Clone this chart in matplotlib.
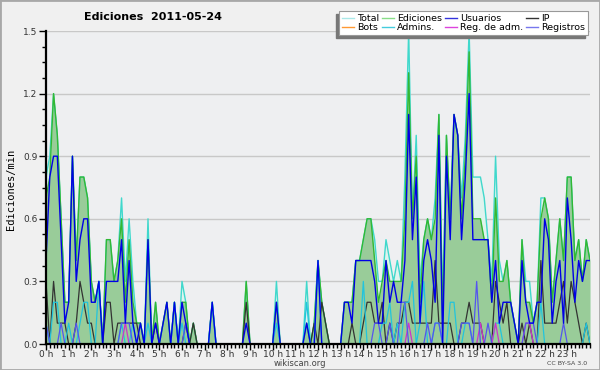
import numpy as np
import matplotlib
matplotlib.use('Agg')
import matplotlib.pyplot as plt
from matplotlib.lines import Line2D
from matplotlib.patches import Rectangle
from matplotlib.ticker import MultipleLocator, FormatStrFormatter

# edits per minute, one value per 10 minutes (12 per line = 2 hours)
total = [
    0.8, 0.9, 1.2, 1.0, 0.6, 0.2,  0.2, 0.9, 0.4, 0.8, 0.8, 0.7,
    0.3, 0.2, 0.3, 0.0, 0.5, 0.5,  0.3, 0.4, 0.7, 0.3, 0.6, 0.3,
    0.1, 0.1, 0.0, 0.6, 0.0, 0.2,  0.0, 0.1, 0.2, 0.0, 0.2, 0.0,
    0.3, 0.2, 0.0, 0.1, 0.0, 0.0,  0.0, 0.0, 0.2, 0.0, 0.0, 0.0,
    0.0, 0.0, 0.0, 0.0, 0.0, 0.3,  0.0, 0.0, 0.0, 0.0, 0.0, 0.0,
    0.0, 0.3, 0.0, 0.0, 0.0, 0.0,  0.0, 0.0, 0.0, 0.3, 0.0, 0.1,
    0.4, 0.2, 0.1, 0.0, 0.0, 0.0,  0.0, 0.2, 0.2, 0.2, 0.4, 0.4,
    0.5, 0.6, 0.6, 0.5, 0.3, 0.3,  0.5, 0.4, 0.3, 0.4, 0.3, 0.8,
    1.5, 0.6, 1.0, 0.3, 0.5, 0.6,  0.5, 0.7, 1.1, 0.2, 1.0, 0.6,
    1.1, 1.0, 0.7, 1.0, 1.5, 0.8,  0.8, 0.8, 0.7, 0.5, 0.3, 0.9,
    0.4, 0.3, 0.4, 0.2, 0.1, 0.0,  0.5, 0.3, 0.3, 0.1, 0.2, 0.7,
    0.7, 0.6, 0.2, 0.4, 0.6, 0.4,  0.8, 0.8, 0.4, 0.5, 0.3, 0.5,
    0.4]
ediciones = [
    0.7, 0.8, 1.2, 1.0, 0.6, 0.2,  0.2, 0.9, 0.4, 0.8, 0.8, 0.7,
    0.3, 0.2, 0.3, 0.0, 0.5, 0.5,  0.3, 0.4, 0.6, 0.2, 0.5, 0.2,
    0.1, 0.1, 0.0, 0.5, 0.0, 0.2,  0.0, 0.1, 0.2, 0.0, 0.2, 0.0,
    0.2, 0.2, 0.0, 0.1, 0.0, 0.0,  0.0, 0.0, 0.2, 0.0, 0.0, 0.0,
    0.0, 0.0, 0.0, 0.0, 0.0, 0.3,  0.0, 0.0, 0.0, 0.0, 0.0, 0.0,
    0.0, 0.2, 0.0, 0.0, 0.0, 0.0,  0.0, 0.0, 0.0, 0.1, 0.0, 0.1,
    0.4, 0.2, 0.1, 0.0, 0.0, 0.0,  0.0, 0.2, 0.2, 0.2, 0.4, 0.4,
    0.5, 0.6, 0.6, 0.4, 0.2, 0.3,  0.4, 0.3, 0.3, 0.3, 0.3, 0.6,
    1.3, 0.6, 0.9, 0.2, 0.5, 0.6,  0.5, 0.6, 1.1, 0.1, 1.0, 0.6,
    1.1, 1.0, 0.6, 0.9, 1.4, 0.6,  0.6, 0.6, 0.5, 0.5, 0.2, 0.7,
    0.3, 0.3, 0.4, 0.2, 0.1, 0.0,  0.5, 0.2, 0.2, 0.1, 0.2, 0.6,
    0.7, 0.6, 0.2, 0.4, 0.6, 0.4,  0.8, 0.8, 0.4, 0.5, 0.3, 0.5,
    0.4]
usuarios = [
    0.4, 0.8, 0.9, 0.9, 0.5, 0.1,  0.2, 0.9, 0.3, 0.5, 0.6, 0.6,
    0.2, 0.2, 0.3, 0.0, 0.3, 0.3,  0.3, 0.3, 0.5, 0.1, 0.4, 0.1,
    0.0, 0.1, 0.0, 0.5, 0.0, 0.1,  0.0, 0.1, 0.2, 0.0, 0.2, 0.0,
    0.2, 0.1, 0.0, 0.0, 0.0, 0.0,  0.0, 0.0, 0.2, 0.0, 0.0, 0.0,
    0.0, 0.0, 0.0, 0.0, 0.0, 0.1,  0.0, 0.0, 0.0, 0.0, 0.0, 0.0,
    0.0, 0.2, 0.0, 0.0, 0.0, 0.0,  0.0, 0.0, 0.0, 0.1, 0.0, 0.0,
    0.4, 0.0, 0.0, 0.0, 0.0, 0.0,  0.0, 0.2, 0.2, 0.1, 0.4, 0.4,
    0.4, 0.4, 0.4, 0.3, 0.1, 0.1,  0.4, 0.2, 0.3, 0.2, 0.2, 0.4,
    1.1, 0.5, 0.8, 0.1, 0.4, 0.5,  0.4, 0.2, 1.0, 0.0, 0.9, 0.5,
    1.1, 1.0, 0.5, 0.8, 1.2, 0.5,  0.5, 0.5, 0.5, 0.5, 0.2, 0.4,
    0.1, 0.2, 0.2, 0.2, 0.1, 0.0,  0.4, 0.2, 0.1, 0.1, 0.2, 0.2,
    0.6, 0.5, 0.1, 0.3, 0.4, 0.1,  0.7, 0.5, 0.2, 0.4, 0.3, 0.4,
    0.4]
ip = [
    0.3, 0.0, 0.3, 0.1, 0.1, 0.1,  0.0, 0.0, 0.1, 0.3, 0.2, 0.1,
    0.1, 0.0, 0.0, 0.0, 0.2, 0.2,  0.0, 0.1, 0.1, 0.1, 0.1, 0.1,
    0.1, 0.0, 0.0, 0.0, 0.0, 0.1,  0.0, 0.0, 0.0, 0.0, 0.0, 0.0,
    0.0, 0.1, 0.0, 0.1, 0.0, 0.0,  0.0, 0.0, 0.0, 0.0, 0.0, 0.0,
    0.0, 0.0, 0.0, 0.0, 0.0, 0.2,  0.0, 0.0, 0.0, 0.0, 0.0, 0.0,
    0.0, 0.0, 0.0, 0.0, 0.0, 0.0,  0.0, 0.0, 0.0, 0.0, 0.0, 0.1,
    0.0, 0.2, 0.1, 0.0, 0.0, 0.0,  0.0, 0.0, 0.0, 0.1, 0.0, 0.0,
    0.1, 0.2, 0.2, 0.1, 0.1, 0.2,  0.0, 0.1, 0.0, 0.1, 0.1, 0.2,
    0.2, 0.1, 0.1, 0.1, 0.1, 0.1,  0.1, 0.4, 0.1, 0.1, 0.1, 0.1,
    0.0, 0.0, 0.1, 0.1, 0.2, 0.1,  0.1, 0.1, 0.0, 0.0, 0.0, 0.3,
    0.2, 0.1, 0.2, 0.0, 0.0, 0.0,  0.1, 0.0, 0.1, 0.0, 0.0, 0.4,
    0.1, 0.1, 0.1, 0.1, 0.2, 0.3,  0.1, 0.3, 0.2, 0.1, 0.0, 0.1,
    0.0]
bots = [0.0] * 145
admins = [
    0.1, 0.0, 0.2, 0.2, 0.0, 0.0,  0.1, 0.0, 0.0, 0.1, 0.2, 0.2,
    0.0, 0.0, 0.3, 0.0, 0.0, 0.0,  0.0, 0.0, 0.1, 0.0, 0.0, 0.1,
    0.0, 0.0, 0.0, 0.1, 0.0, 0.0,  0.0, 0.0, 0.0, 0.0, 0.2, 0.0,
    0.1, 0.0, 0.0, 0.0, 0.0, 0.0,  0.0, 0.0, 0.2, 0.0, 0.0, 0.0,
    0.0, 0.0, 0.0, 0.0, 0.0, 0.0,  0.0, 0.0, 0.0, 0.0, 0.0, 0.0,
    0.0, 0.1, 0.0, 0.0, 0.0, 0.0,  0.0, 0.0, 0.0, 0.2, 0.0, 0.0,
    0.4, 0.0, 0.0, 0.0, 0.0, 0.0,  0.0, 0.0, 0.0, 0.0, 0.0, 0.0,
    0.3, 0.0, 0.0, 0.0, 0.0, 0.1,  0.1, 0.2, 0.0, 0.1, 0.0, 0.2,
    0.2, 0.3, 0.0, 0.1, 0.3, 0.0,  0.0, 0.1, 0.1, 0.0, 0.0, 0.2,
    0.2, 0.0, 0.0, 0.1, 0.1, 0.0,  0.0, 0.0, 0.0, 0.0, 0.0, 0.1,
    0.1, 0.0, 0.0, 0.0, 0.0, 0.0,  0.0, 0.0, 0.0, 0.0, 0.0, 0.2,
    0.0, 0.0, 0.0, 0.0, 0.0, 0.0,  0.0, 0.0, 0.0, 0.0, 0.0, 0.1,
    0.0]
reg_adm = [0.0] * 145
for k in (21, 96, 115, 119, 127, 128):
    reg_adm[k] = 0.1
registros = [
    0.1, 0.0, 0.0, 0.0, 0.1, 0.0,  0.0, 0.0, 0.1, 0.0, 0.0, 0.0,
    0.0, 0.0, 0.0, 0.0, 0.0, 0.0,  0.0, 0.0, 0.1, 0.1, 0.1, 0.0,
    0.0, 0.0, 0.0, 0.0, 0.0, 0.0,  0.0, 0.0, 0.0, 0.0, 0.0, 0.0,
    0.0, 0.1, 0.0, 0.0, 0.0, 0.0,  0.0, 0.0, 0.0, 0.0, 0.0, 0.0,
    0.0, 0.0, 0.0, 0.0, 0.0, 0.0,  0.0, 0.0, 0.0, 0.0, 0.0, 0.0,
    0.0, 0.0, 0.0, 0.0, 0.0, 0.0,  0.0, 0.0, 0.0, 0.0, 0.0, 0.0,
    0.0, 0.0, 0.0, 0.0, 0.0, 0.0,  0.0, 0.0, 0.0, 0.0, 0.0, 0.0,
    0.0, 0.0, 0.0, 0.1, 0.1, 0.0,  0.0, 0.1, 0.0, 0.0, 0.2, 0.2,
    0.0, 0.0, 0.0, 0.0, 0.0, 0.1,  0.0, 0.1, 0.1, 0.0, 0.0, 0.0,
    0.0, 0.0, 0.1, 0.1, 0.1, 0.0,  0.3, 0.0, 0.0, 0.1, 0.0, 0.0,
    0.0, 0.0, 0.0, 0.0, 0.0, 0.0,  0.0, 0.1, 0.1, 0.1, 0.0, 0.0,
    0.0, 0.0, 0.0, 0.0, 0.0, 0.1,  0.0, 0.0, 0.0, 0.0, 0.0, 0.0,
    0.0]
hour_labels = ['%d h' % h for h in range(24)]

hours = np.arange(len(total)) / 6.0

# figure
fig = plt.figure(figsize=(6.0, 3.7), dpi=100, facecolor='#f0f0f0')
ax = fig.add_axes([46/600, 26/370, 544/600, 313/370], facecolor='#eeeff1')

# areas
ax.fill_between(hours, 0, total, color='#dff3ee', lw=0, zorder=1)
ax.fill_between(hours, 0, ediciones, color='#99cc99', lw=0, zorder=2)

# lines
ax.plot(hours, total, color='#40d8cc', lw=1.0, zorder=3)
ax.plot(hours, ediciones, color='#33b833', lw=1.0, zorder=4)
ax.plot(hours, ip, color='#333333', lw=0.9, zorder=5)
ax.plot(hours, bots, color='#ff9922', lw=0.9, zorder=5)
ax.plot(hours, admins, color='#22c4dd', lw=0.9, zorder=6)
ax.plot(hours, reg_adm, color='#cc33cc', lw=0.9, zorder=6)
ax.plot(hours, registros, color='#5555ee', lw=0.9, zorder=6)
ax.plot(hours, usuarios, color='#0000e6', lw=1.0, zorder=7)

# axes
ax.set_xlim(0, hours[-1])
ax.set_ylim(0, 1.5)
ax.set_xticks(np.arange(24))
ax.set_xticklabels(hour_labels)
ax.xaxis.set_minor_locator(MultipleLocator(1/6.0))
ax.yaxis.set_major_locator(MultipleLocator(0.3))
ax.yaxis.set_minor_locator(MultipleLocator(0.075))
ax.yaxis.set_major_formatter(FormatStrFormatter('%.1f'))
ax.grid(axis='y', color='#c8c8c8', lw=1.0, zorder=0)
ax.set_axisbelow(True)
for s in ('top', 'right'):
    ax.spines[s].set_visible(False)
for s in ('left', 'bottom'):
    ax.spines[s].set_linewidth(1.6)
    ax.spines[s].set_zorder(10)
ax.tick_params(which='major', length=5, width=1, labelsize=6.5,
               colors='#000000', labelcolor='#333333', pad=1)
ax.tick_params(which='minor', length=3, width=1)
ax.tick_params(axis='x', which='major', length=4, pad=0)

# texts
fig.text(0.255, 0.955, 'Ediciones  2011-05-24', ha='center', va='center',
         fontsize=8, fontweight='bold')
fig.text(0.018, 0.487, 'Ediciones/min', rotation=90, ha='center',
         va='center', fontsize=7.5, family='DejaVu Sans Mono')
fig.text(0.5, 0.017, 'wikiscan.org', ha='center', va='center',
         fontsize=6, color='#444444')
fig.text(0.945, 0.017, 'CC BY-SA 3.0', ha='center', va='center',
         fontsize=4.5, color='#444444')

# legend
names = ['Total', 'Bots', 'Ediciones', 'Admins.', 'Usuarios', 'Reg. de adm.',
         'IP', 'Registros']
colors = ['#aae8e8', '#ff9933', '#88dd88', '#44ccdd', '#3333dd', '#dd44dd',
          '#333333', '#7777ee']
handles = [Line2D([], [], color=c, lw=1) for c in colors]
leg = fig.legend(handles, names, ncol=4, loc='upper right',
                 bbox_to_anchor=(0.98, 0.97), fontsize=6.8,
                 handlelength=1.3, handletextpad=0.3, columnspacing=0.3,
                 labelspacing=0.05, borderpad=0.3, borderaxespad=0,
                 fancybox=False, edgecolor='#999999', framealpha=1)
leg.get_frame().set_linewidth(0.8)

# legend shadow (offset down-left)
fig.canvas.draw()
bb = leg.get_frame().get_window_extent()
inv = fig.transFigure.inverted()
(x0, y0), (x1, y1) = inv.transform([[bb.x0 - 3, bb.y0 - 3],
                                    [bb.x1 - 3, bb.y1 - 3]])
fig.patches.append(Rectangle((x0, y0), x1 - x0, y1 - y0,
                             transform=fig.transFigure, color='#777777',
                             zorder=4))

# outer border
fig.patches.append(Rectangle((0, 0), 1, 1, transform=fig.transFigure,
                             fill=False, edgecolor='#a8a8a8', lw=2))

fig.savefig('out.png', dpi=100, facecolor=fig.get_facecolor())
